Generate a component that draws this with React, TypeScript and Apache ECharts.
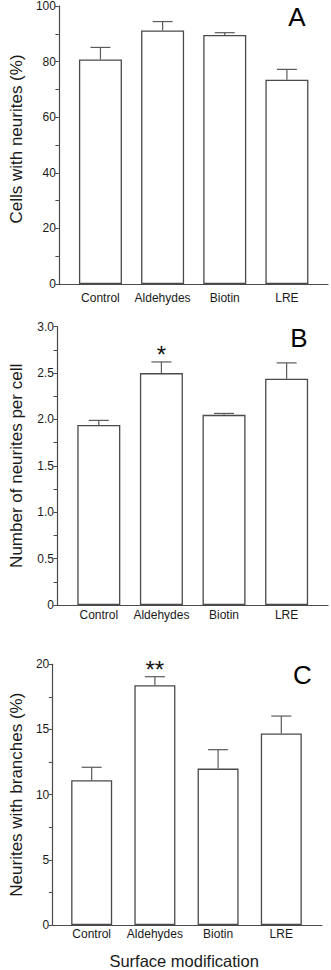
import React, { useEffect, useRef } from "react";
import * as echarts from "echarts";

const categories = ["Control", "Aldehydes", "Biotin", "LRE"];

// Panel A: Cells with neurites (%)
const cellsMean = [80.8, 91.2, 89.6, 73.5];
const cellsErr = [4.3, 3.2, 0.8, 3.7];
const cellsSig = ["", "", "", ""];

// Panel B: Number of neurites per cell
const neuritesMean = [1.94, 2.5, 2.05, 2.44];
const neuritesErr = [0.05, 0.12, 0.015, 0.17];
const neuritesSig = ["", "*", "", ""];

// Panel C: Neurites with branches (%)
const branchesMean = [11.1, 18.4, 12.0, 14.7];
const branchesErr = [1.0, 0.65, 1.45, 1.33];
const branchesSig = ["", "**", "", ""];

const FONT = "'Liberation Sans', Arial, Helvetica, sans-serif";
const AXIS = "#4a4a4a";

type Panel = {
  mean: number[];
  err: number[];
  sig: string[];
  yName: string;
  yMax: number;
  yInterval: number;
  fmt: (v: number) => string;
  letter: string;
  grid: { left: number; top: number; width: number; height: number };
  xMin: number;
  xMax: number;
  barWidth: number;
  labelMargin: number;
  nameGap: number;
  namePad: number[];
  letterPos: [number, number];
  xName?: string;
};

const panels: Panel[] = [
  {
    mean: cellsMean, err: cellsErr, sig: cellsSig,
    yName: "Cells with neurites (%)", yMax: 100, yInterval: 20,
    fmt: (v) => String(v), letter: "A",
    grid: { left: 49.5, top: 6, width: 278.5, height: 278 },
    xMin: -0.668, xMax: 3.661, barWidth: 43, labelMargin: 8, nameGap: 32,
    namePad: [0, 0, 0, 12],
    letterPos: [297, 4],
  },
  {
    mean: neuritesMean, err: neuritesErr, sig: neuritesSig,
    yName: "Number of neurites per cell", yMax: 3, yInterval: 0.5,
    fmt: (v) => (v === 0 ? "0" : v.toFixed(1)), letter: "B",
    grid: { left: 49.5, top: 326.7, width: 278.5, height: 278.3 },
    xMin: -0.668, xMax: 3.661, barWidth: 43, labelMargin: 4, nameGap: 32,
    namePad: [0, 0, 0, 0],
    letterPos: [299, 325],
  },
  {
    mean: branchesMean, err: branchesErr, sig: branchesSig,
    yName: "Neurites with branches (%)", yMax: 20, yInterval: 5,
    fmt: (v) => String(v), letter: "C",
    grid: { left: 52.3, top: 664.3, width: 269.7, height: 264 },
    xMin: -0.623, xMax: 3.644, barWidth: 41, labelMargin: 2.5, nameGap: 25,
    namePad: [0, 0, 0, 0],
    letterPos: [302.5, 662],
    xName: "Surface modification",
  },
];

export default function App() {
  const ref = useRef<HTMLDivElement>(null);
  useEffect(() => {
    if (!ref.current) return;
    const chart = echarts.init(ref.current, undefined, { renderer: "svg" });
    const grid: any[] = [];
    const xAxis: any[] = [];
    const yAxis: any[] = [];
    const series: any[] = [];
    const graphic: any[] = [];
    panels.forEach((p, i) => {
      grid.push({ ...p.grid, containLabel: false });
      xAxis.push({
        type: "value",
        gridIndex: i,
        min: p.xMin,
        max: p.xMax,
        axisLine: { show: true, onZero: false, lineStyle: { color: AXIS, width: 1.2 } },
        axisTick: { show: false },
        splitLine: { show: false },
        axisLabel: {
          customValues: [0, 1, 2, 3],
          formatter: (v: number) => categories[Math.round(v)],
          color: "#1a1a1a",
          fontSize: 12,
          fontFamily: FONT,
          margin: p.labelMargin,
        },
        name: p.xName || "",
        nameLocation: "middle",
        nameGap: 27,
        nameTextStyle: { fontSize: 16.5, color: "#1a1a1a", fontFamily: FONT, padding: [0, 6, 0, 0] },
      });
      yAxis.push({
        type: "value",
        gridIndex: i,
        min: 0,
        max: p.yMax,
        interval: p.yInterval,
        axisLine: { show: true, onZero: false, lineStyle: { color: AXIS, width: 1.2 } },
        axisTick: { show: true, length: 3.5, lineStyle: { color: AXIS, width: 1 } },
        minorTick: { show: true, splitNumber: 2, length: 3.5, lineStyle: { color: AXIS, width: 1 } },
        splitLine: { show: false },
        minorSplitLine: { show: false },
        axisLabel: {
          formatter: p.fmt,
          color: "#1a1a1a",
          fontSize: 12,
          fontFamily: FONT,
          margin: 3,
        },
        name: p.yName,
        nameLocation: "middle",
        nameGap: p.nameGap,
        nameTextStyle: { fontSize: 17, color: "#1a1a1a", fontFamily: FONT, padding: p.namePad },
      });
      series.push({
        type: "bar",
        xAxisIndex: i,
        yAxisIndex: i,
        barWidth: p.barWidth,
        data: p.mean.map((m, k) => [k, m]),
        itemStyle: { color: "#ffffff", borderColor: AXIS, borderWidth: 1.3 },
        silent: true,
      });
      series.push({
        type: "custom",
        xAxisIndex: i,
        yAxisIndex: i,
        data: p.mean.map((m, k) => [k, m, m + p.err[k]]),
        encode: { x: 0, y: [1, 2] },
        renderItem: (params: any, api: any) => {
          const x = api.value(0);
          const a = api.coord([x, api.value(1)]);
          const b = api.coord([x, api.value(2)]);
          const half = 10;
          const style = { stroke: "#5a5a5a", lineWidth: 1.2 };
          return {
            type: "group",
            children: [
              { type: "line", shape: { x1: a[0], y1: a[1], x2: b[0], y2: b[1] }, style },
              { type: "line", shape: { x1: b[0] - half, y1: b[1], x2: b[0] + half, y2: b[1] }, style },
            ],
          };
        },
        silent: true,
        z: 3,
      });
      series.push({
        type: "custom",
        xAxisIndex: i,
        yAxisIndex: i,
        data: p.mean.map((m, k) => [k, m + p.err[k]]),
        encode: { x: 0, y: 1 },
        renderItem: (params: any, api: any) => {
          const idx = params.dataIndex;
          const s = p.sig[idx];
          if (!s) return null;
          const c = api.coord([api.value(0), api.value(1)]);
          return {
            type: "text",
            style: {
              text: s,
              x: c[0],
              y: c[1] - 7,
              textAlign: "center",
              textVerticalAlign: "middle",
              fontSize: 24,
              fontFamily: FONT,
              fill: "#111",
            },
          };
        },
        silent: true,
        z: 4,
      });
      graphic.push({
        type: "text",
        x: p.letterPos[0],
        y: p.letterPos[1],
        style: {
          text: p.letter,
          fontSize: 26,
          fontFamily: FONT,
          fill: "#000",
          textAlign: "center",
          textVerticalAlign: "top",
        },
      });
    });
    chart.setOption({
      animation: false,
      backgroundColor: "#ffffff",
      grid,
      xAxis,
      yAxis,
      series,
      graphic,
    });
    return () => chart.dispose();
  }, []);
  return (
    <div
      ref={ref}
      style={{ position: "absolute", left: 0, top: 0, width: 331, height: 970, background: "#fff" }}
    />
  );
}
